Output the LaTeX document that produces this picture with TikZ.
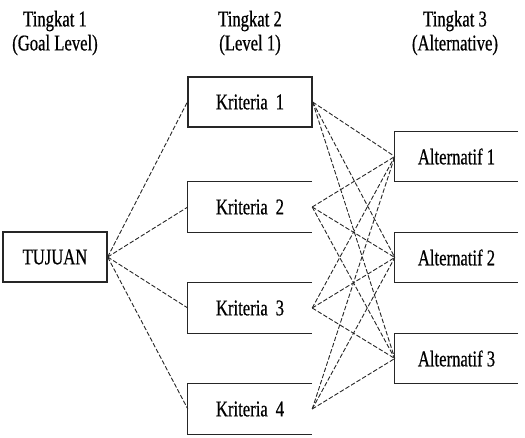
\documentclass[tikz,border=0pt]{standalone}
\usepackage{fontspec}
\setmainfont{Liberation Serif}[FakeStretch=0.74, FakeBold=0.6]
\usetikzlibrary{positioning}

\tikzset{
  boxtext/.style={inner sep=0pt, text=black, font=\fontsize{22.5}{24}\selectfont},
  kritbox/.style={boxtext, minimum width=124pt, minimum height=50pt},
  altbox/.style={boxtext, minimum width=123pt, minimum height=49pt},
  edge/.style={dash pattern=on 4.5pt off 2pt, line width=.9pt, black!85},
  frame/.style={draw=black!85, line width=1.3pt}
}

\begin{document}
\begin{tikzpicture}[x=1pt,y=-1pt]
\useasboundingbox (0,0) rectangle (525,437);

% level headers
\node[boxtext, align=center] (lvl1) at (55,33) {Tingkat 1\\(Goal Level)};
\node[boxtext, align=center] (lvl2) at (250,33) {Tingkat 2\\(Level 1)};
\node[boxtext, align=center] (lvl3) at (455,33) {Tingkat 3\\(Alternative)};

% goal
\node[boxtext, frame, minimum width=104pt, minimum height=50pt] (tuj) at (55,257) {TUJUAN};

% criteria
\node[kritbox, frame] (k1) at (250,102) {Kriteria\, 1};
\foreach \i/\y in {2/207,3/308,4/409} {
  \node[kritbox] (k\i) at (250,\y) {Kriteria\, \i};
  \draw[frame] (k\i.north east) -- (k\i.north west) -- (k\i.south west) -- (k\i.south east);
}

% alternatives
\foreach \j/\y in {1/156.5,2/257.5,3/358.5} {
  \node[altbox] (a\j) at (456.5,\y) {Alternatif \j};
  \draw[frame] (a\j.north east) -- (a\j.north west) -- (a\j.south west) -- (a\j.south east);
}

% connectors
\foreach \i in {1,...,4} {
  \draw[edge] (tuj.east) -- (k\i.west);
  \foreach \j in {1,2,3} \draw[edge] (k\i.east) -- (a\j.west);
}
\end{tikzpicture}
\end{document}
